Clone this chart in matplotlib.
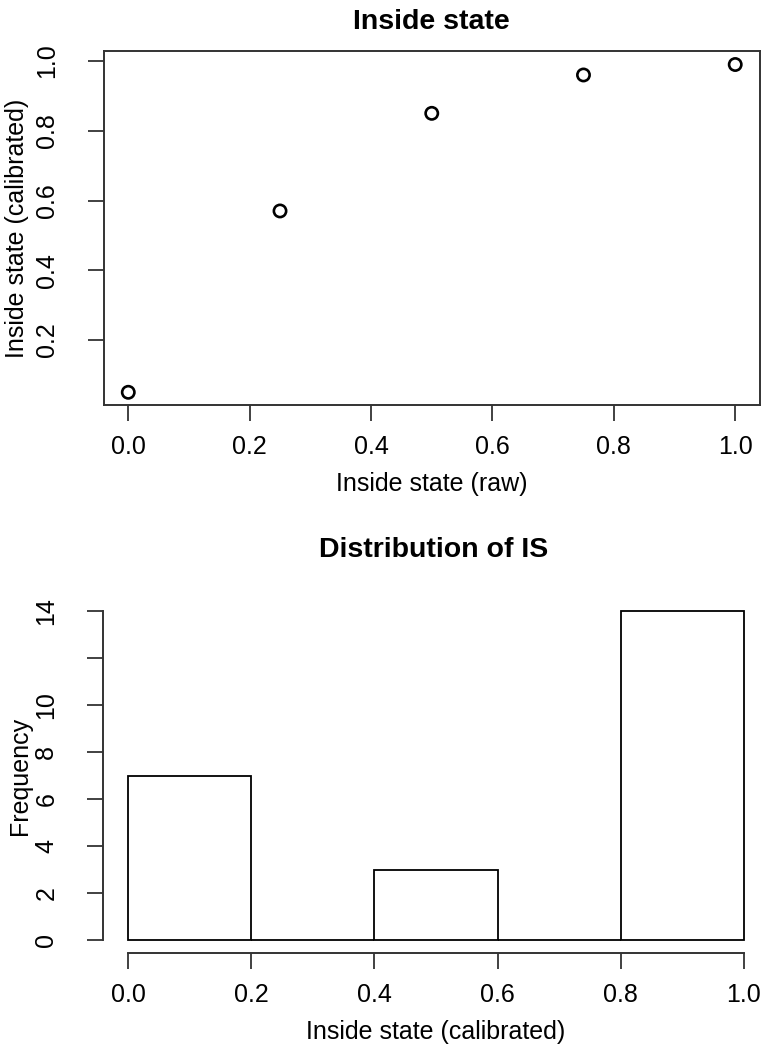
import numpy as np
import matplotlib
matplotlib.use("Agg")
import matplotlib.pyplot as plt

plt.rcParams['font.family'] = ['Liberation Sans', 'DejaVu Sans']

# calibration of the inside-state score
raw = [0.0, 0.25, 0.5, 0.75, 1.0]
calibrated = [0.05, 0.57, 0.85, 0.96, 0.99]

# histogram of the calibrated score
bin_edges = [0.0, 0.2, 0.4, 0.6, 0.8, 1.0]
counts = [7, 0, 3, 0, 14]

x_ticks = [0.0, 0.2, 0.4, 0.6, 0.8, 1.0]
x_ticklabels = ['0.0', '0.2', '0.4', '0.6', '0.8', '1.0']
top_yticks = [0.2, 0.4, 0.6, 0.8, 1.0]
top_yticklabels = ['0.2', '0.4', '0.6', '0.8', '1.0']
hist_yticks = [0, 2, 4, 6, 8, 10, 12, 14]
hist_yticklabels = ['0', '2', '4', '6', '8', '10', '', '14']

W, H = 761, 1050
LINE = '#333333'
FS = 18
FS_TITLE = 20.5


def r_range(lo, hi):
    # base R pads the data range by 4% on each side
    pad = (hi - lo) * 0.04
    return lo - pad, hi + pad


def add_axes_px(left, top, right, bottom):
    return fig.add_axes([left / W, 1 - bottom / H, (right - left) / W, (bottom - top) / H])


def style_ticks(ax):
    ax.tick_params(direction='out', length=11.5, width=1.3, color=LINE,
                   labelsize=FS, colors='black')
    ax.tick_params(axis='x', pad=10)
    ax.tick_params(axis='y', pad=21, labelrotation=90)
    for lab in ax.get_yticklabels():
        lab.set_va('center')


fig = plt.figure(figsize=(W / 100, H / 100), dpi=100)

# --- scatter: raw vs calibrated ---
top_box = (104, 51.4, 759.5, 405.4)
ax1 = add_axes_px(*top_box)
ax1.scatter(raw, calibrated, s=78, facecolors='none', edgecolors='black', linewidths=1.9)
ax1.set_xlim(r_range(min(raw), max(raw)))
ax1.set_ylim(r_range(min(calibrated), max(calibrated)))
ax1.set_xticks(x_ticks)
ax1.set_xticklabels(x_ticklabels)
ax1.set_yticks(top_yticks)
ax1.set_yticklabels(top_yticklabels)
for sp in ax1.spines.values():
    sp.set_color(LINE)
    sp.set_linewidth(1.4)
style_ticks(ax1)
w1 = top_box[2] - top_box[0]
h1 = top_box[3] - top_box[1]
ax1.set_xlabel('Inside state (raw)', fontsize=FS)
ax1.xaxis.label.set_va('center')
ax1.xaxis.set_label_coords(0.5, (top_box[3] - 484) / h1)
ax1.set_ylabel('Inside state (calibrated)', fontsize=FS)
ax1.yaxis.label.set_va('center')
ax1.yaxis.set_label_coords((17 - top_box[0]) / w1, 0.5)
fig.text((top_box[0] + top_box[2]) / 2 / W, 1 - 22 / H, 'Inside state',
         ha='center', va='center', fontsize=FS_TITLE, fontweight='bold')

# --- histogram of calibrated values ---
hist_box = (103.4, 597.8, 768.6, 953.2)
ax2 = add_axes_px(*hist_box)
edges = np.array(bin_edges)
ax2.bar(edges[:-1], counts, width=np.diff(edges), align='edge',
        color='white', edgecolor='black', linewidth=1.3)
ax2.set_xlim(r_range(edges[0], edges[-1]))
ax2.set_ylim(r_range(0, max(counts)))
ax2.set_xticks(x_ticks)
ax2.set_xticklabels(x_ticklabels)
ax2.set_yticks(hist_yticks)
ax2.set_yticklabels(hist_yticklabels)
ax2.spines['top'].set_visible(False)
ax2.spines['right'].set_visible(False)
ax2.spines['bottom'].set_bounds(edges[0], edges[-1])
ax2.spines['left'].set_bounds(0, max(counts))
for side in ('bottom', 'left'):
    ax2.spines[side].set_color(LINE)
    ax2.spines[side].set_linewidth(1.4)
style_ticks(ax2)
w2 = hist_box[2] - hist_box[0]
h2 = hist_box[3] - hist_box[1]
ax2.set_xlabel('Inside state (calibrated)', fontsize=FS)
ax2.xaxis.label.set_va('center')
ax2.xaxis.set_label_coords(0.5, (hist_box[3] - 1032) / h2)
ax2.set_ylabel('Frequency', fontsize=FS)
ax2.yaxis.label.set_va('center')
ax2.yaxis.set_label_coords((20 - hist_box[0]) / w2, 0.5)
fig.text(434 / W, 1 - 550 / H, 'Distribution of IS', ha='center', va='center',
         fontsize=FS_TITLE, fontweight='bold')

fig.savefig('out.png', dpi=100, facecolor='white')
